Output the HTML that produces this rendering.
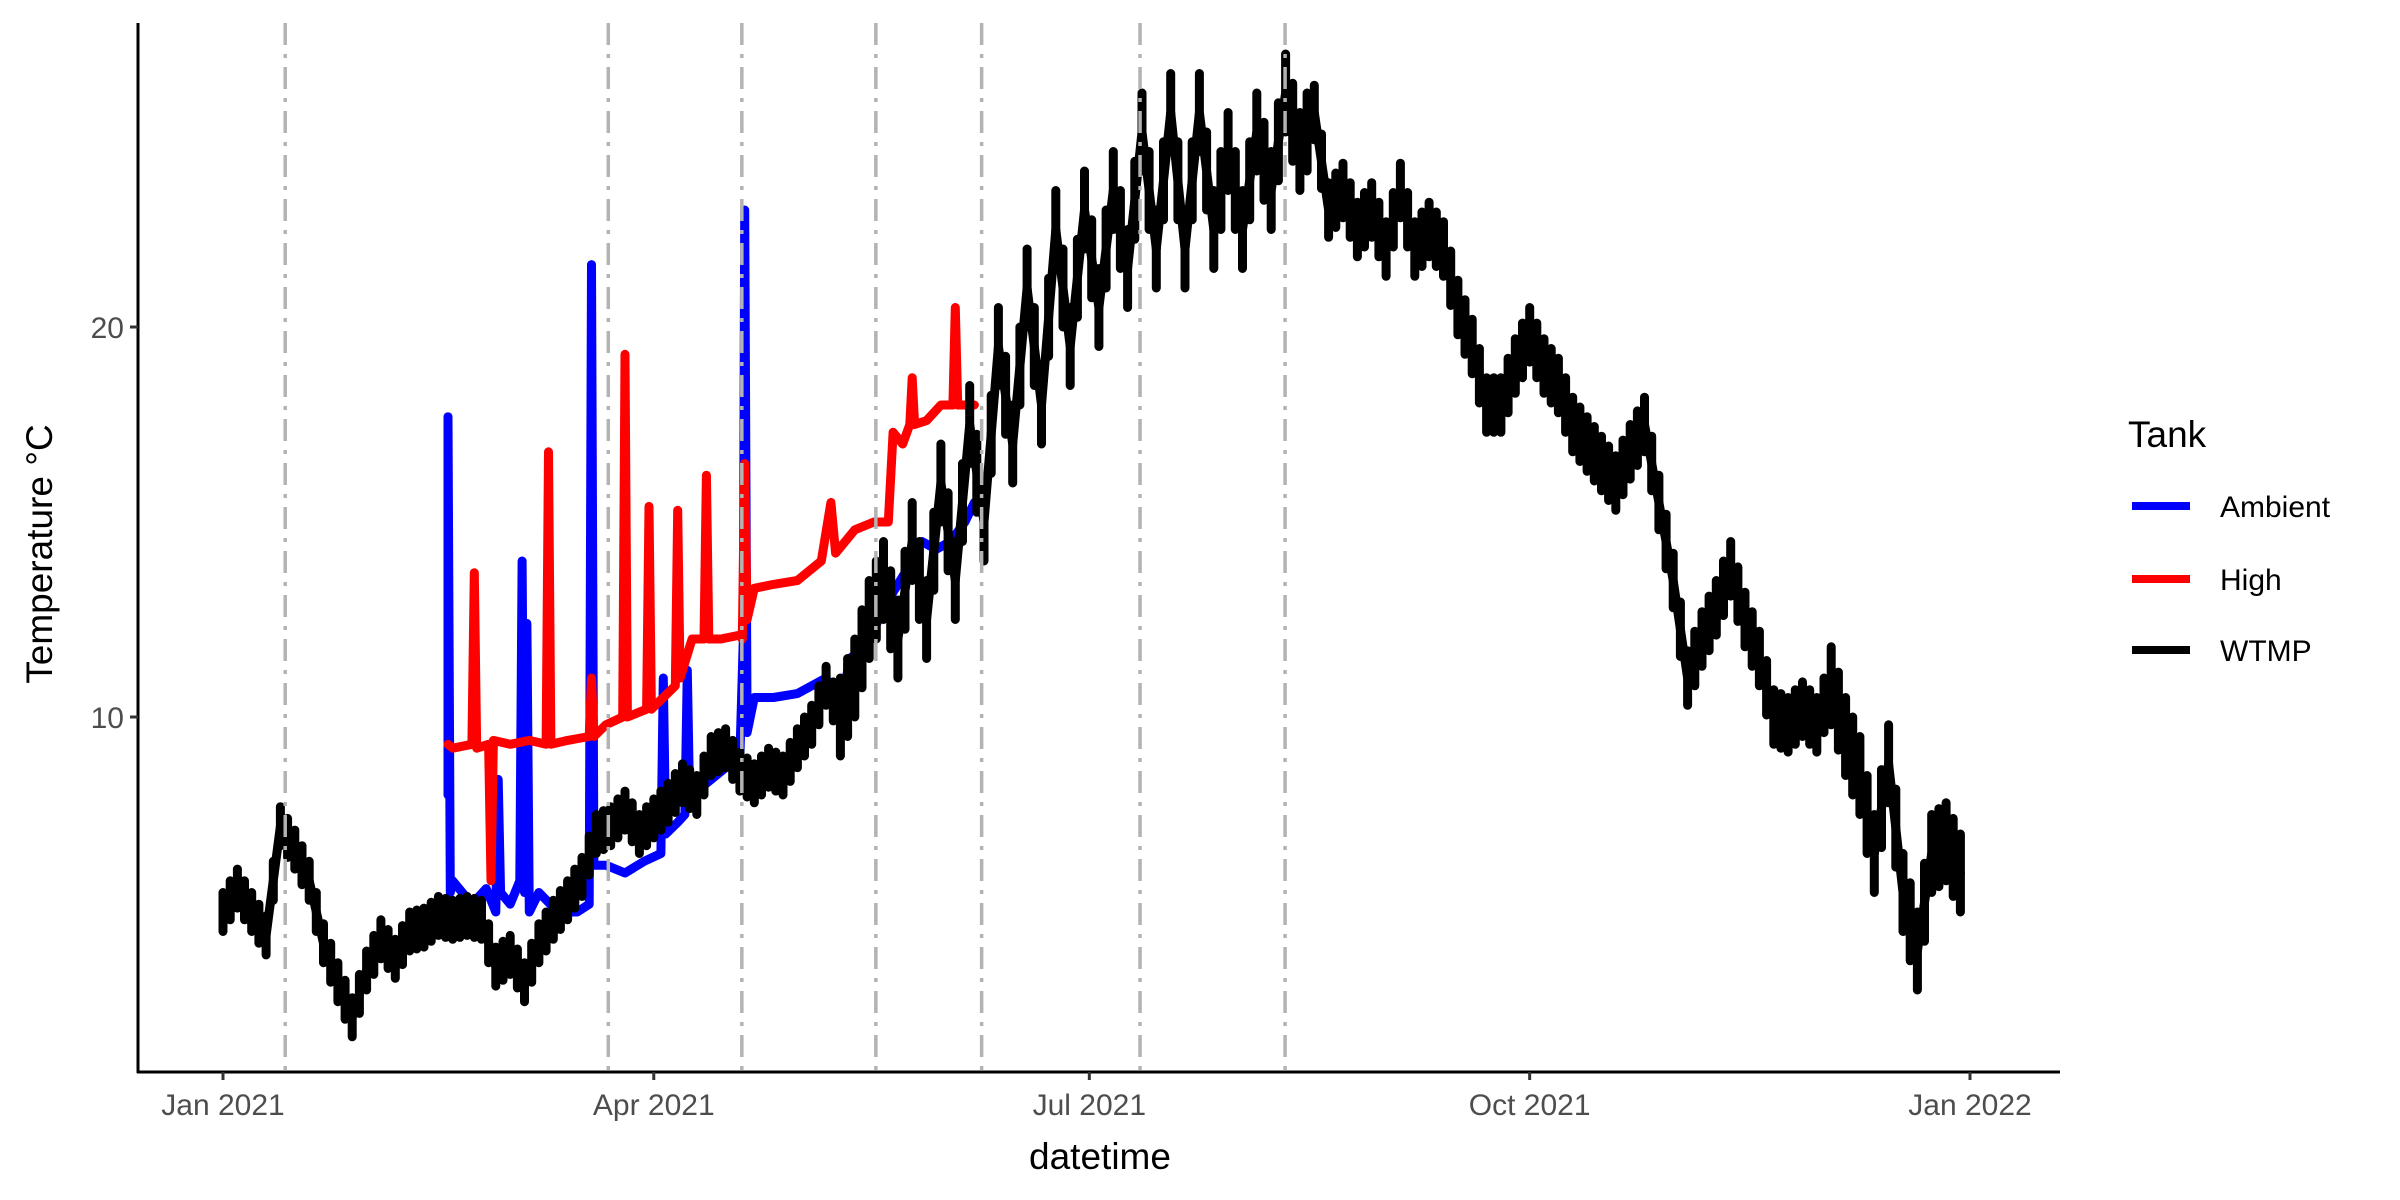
<!DOCTYPE html>
<html><head><meta charset="utf-8"><style>
html,body{margin:0;padding:0;background:#fff;}
svg{display:block;font-family:"Liberation Sans",Arial,sans-serif;}
</style></head><body>
<svg id="chart" width="2400" height="1200" viewBox="0 0 2400 1200" xmlns="http://www.w3.org/2000/svg">
<rect width="2400" height="1200" fill="#fff"/>
<g id="series"></g>
<g id="vlines"></g>
<g id="axes"></g>
<text transform="translate(52,554) rotate(-90)" text-anchor="middle" font-size="37" fill="#000">Temperature °C</text>
<text x="1100" y="1169" text-anchor="middle" font-size="37" fill="#000">datetime</text>
<g>
<text x="2128" y="447" font-size="37" fill="#000">Tank</text>
<g><line x1="2132" x2="2190" y1="506" y2="506" stroke="#0000ff" stroke-width="8"/><text x="2220" y="517" font-size="30" fill="#000">Ambient</text></g>
<g><line x1="2132" x2="2190" y1="579" y2="579" stroke="#ff0000" stroke-width="8"/><text x="2220" y="590" font-size="30" fill="#000">High</text></g>
<g><line x1="2132" x2="2190" y1="650" y2="650" stroke="#000" stroke-width="8"/><text x="2220" y="661" font-size="30" fill="#000">WTMP</text></g>
</g>
</svg>
<script>
const xTickDays = [0, 90, 181, 273, 365];
const xTickLabels = ["Jan 2021", "Apr 2021", "Jul 2021", "Oct 2021", "Jan 2022"];
const yTicks = [10, 20];
const vlineDays = [13, 80.5, 108.4, 136.4, 158.5, 191.6, 221.9];
const wtmpDays = [0,3,6,9,12,15,18,21,24,27,30,33,36,39,42,45,48,51,54,57,60,63,66,69,72,75,78,81,84,87,90,93,96,99,102,105,108,111,114,117,120,123,126,129,132,135,138,141,144,147,150,153,156,159,162,165,168,171,174,177,180,183,186,189,192,195,198,201,204,207,210,213,216,219,222,225,228,231,234,237,240,243,246,249,252,255,258,261,264,267,270,273,276,279,282,285,288,291,294,297,300,303,306,309,312,315,318,321,324,327,330,333,336,339,342,345,348,351,354,357,360,363];
const wtmpVals = [5.0,5.6,5.0,4.4,7.2,6.6,5.8,4.2,3.2,2.3,3.5,4.3,3.8,4.5,4.6,4.9,4.8,4.9,4.8,3.6,3.9,3.2,4.2,4.8,5.3,5.9,7.0,7.2,7.6,7.0,7.4,7.8,8.3,8.0,9.0,9.2,8.6,8.3,8.7,8.5,9.2,9.8,10.8,10.0,11.0,12.5,13.5,12.0,14.5,12.5,16.0,13.5,17.5,15.0,19.5,17.0,21.0,18.0,22.5,19.5,23.0,20.5,23.5,21.5,25.0,22.0,25.5,22.0,25.5,22.5,24.5,22.5,25.0,23.5,26.0,24.5,25.5,23.0,23.5,22.5,23.0,22.0,23.5,22.0,22.5,22.0,20.5,19.5,18.0,18.0,19.0,19.8,19.0,18.5,17.5,17.0,16.5,16.0,16.8,17.5,15.5,13.5,11.0,12.0,12.8,13.8,12.5,11.5,10.0,9.8,10.2,9.8,10.8,9.5,8.5,6.5,8.8,5.5,4.0,6.5,6.8,6.0];
const wtmpSpread = [0.5,0.5,0.5,0.5,0.5,0.5,0.5,0.5,0.5,0.5,0.5,0.5,0.5,0.5,0.5,0.5,0.5,0.5,0.5,0.5,
0.5,0.5,0.5,0.5,0.5,0.5,0.5,0.5,0.5,0.5,0.5,0.5,0.5,0.5,0.5,0.5,0.5,0.5,0.5,0.5,0.5,0.5,0.5,
1.0,1.0,1.0,1.0,1.0,1.0,1.0,1.0,1.0,1.0,1.0,1.0,1.0,1.0,1.0,1.0,1.0,1.0,1.0,1.0,1.0,1.0,1.0,1.0,1.0,1.0,1.0,1.0,1.0,1.0,1.0,1.0,1.0,
0.7,0.7,0.7,0.7,0.7,0.7,0.7,0.7,0.7,0.7,0.7,0.7,0.7,0.7,0.7,0.7,0.7,0.7,0.7,0.7,0.7,0.7,0.7,0.7,
0.7,0.7,0.7,0.7,0.7,0.7,0.7,0.7,0.7,0.7,0.7,0.7,
1.0,1.0,1.0,1.0,1.0,1.0,1.0,1.0,1.0,1.0];
const ambDays = [47,47,47.5,48,52,55,57,57.5,58,60,62,62.5,63,63.5,64,66,70,74,76.5,77,77.5,80,84,88,91.5,92,92.5,95,96.5,97,97.5,100,104,108,108.7,109,109.5,111,115,120,123,126,129,131,134,137,140,143,146,149,152,155,157];
const ambVals = [8,17.7,5.5,5.8,5.2,5.6,5.0,8.4,5.5,5.2,5.8,14.0,5.5,12.4,5.0,5.5,5.0,5.0,5.2,21.6,6.2,6.2,6.0,6.3,6.5,11.0,7.0,7.3,7.5,11.2,7.8,8.2,8.6,9.0,12.0,23.0,9.6,10.5,10.5,10.6,10.8,11.0,10.2,11.5,11.8,12.5,13.2,13.8,14.5,14.3,14.5,15.0,15.5];
const highDays = [47,48,52,52.5,53,55.5,56,56.5,60,64,67.5,68,68.5,72,76.5,77,77.5,80,83.5,84,84.5,88.5,89,89.5,92,94.5,95,95.5,98,100.5,101,101.5,104,108,108.5,109,109.5,111,115,120,125,127,128,132,136,139,140,142,143.5,144,144.5,147,150,152.5,153,153.5,157];
const highVals = [9.3,9.2,9.3,13.7,9.2,9.3,5.8,9.4,9.3,9.4,9.3,16.8,9.3,9.4,9.5,11.0,9.5,9.8,10.0,19.3,10.0,10.2,15.4,10.2,10.5,10.8,15.3,11.0,12.0,12.0,16.2,12.0,12.0,12.1,12.0,16.5,12.5,13.3,13.4,13.5,14.0,15.5,14.2,14.8,15.0,15.0,17.3,17.0,17.5,18.7,17.5,17.6,18.0,18.0,20.5,18.0,18.0];

const NS = "http://www.w3.org/2000/svg";
const X0 = 223, PXD = (1970 - 223) / 365;
function xScale(d) { return X0 + d * PXD; }
function yScale(v) { return 717 - (v - 10) * 39; }
const PL = 138, PR = 2060, PT = 23, PB = 1072;
const LW = 9;

function addPath(d, color, name, w) {
  const p = document.createElementNS(NS, "path");
  p.setAttribute("d", d);
  p.setAttribute("fill", "none");
  p.setAttribute("stroke", color);
  p.setAttribute("stroke-width", w);
  p.setAttribute("stroke-linejoin", "round");
  p.setAttribute("stroke-linecap", "round");
  
  
  document.getElementById("series").appendChild(p);
}
function drawSeries(days, vals, color, name) {
  let d = "";
  for (let i = 0; i < days.length; i++) {
    d += (i ? "L" : "M") + xScale(days[i]).toFixed(1) + "," + yScale(vals[i]).toFixed(1);
  }
  addPath(d, color, name, LW);
}
drawSeries(ambDays, ambVals, "#0000ff", "ambient-line");
drawSeries(highDays, highVals, "#ff0000", "high-line");
drawSeries(wtmpDays, wtmpVals, "#000000", "wtmp-line");
(function () {
  let d = "";
  for (let i = 0; i < wtmpDays.length; i++) {
    const x = xScale(wtmpDays[i]);
    const s = wtmpSpread[i];
    d += "M" + x.toFixed(1) + "," + yScale(wtmpVals[i] + s).toFixed(1) + "L" + x.toFixed(1) + "," + yScale(wtmpVals[i] - s).toFixed(1);
    if (i + 1 < wtmpDays.length) {
      const xm = (x + xScale(wtmpDays[i + 1])) / 2, vm = (wtmpVals[i] + wtmpVals[i + 1]) / 2;
      d += "M" + xm.toFixed(1) + "," + yScale(vm + s).toFixed(1) + "L" + xm.toFixed(1) + "," + yScale(vm - s).toFixed(1);
    }
  }
  addPath(d, "#000000", "wtmp-fluctuation", LW);
})();

const vg = document.getElementById("vlines");
vlineDays.forEach(function (d) {
  const l = document.createElementNS(NS, "line");
  l.setAttribute("x1", xScale(d)); l.setAttribute("x2", xScale(d));
  l.setAttribute("y1", PT); l.setAttribute("y2", PB);
  l.setAttribute("stroke", "#b3b3b3");
  l.setAttribute("stroke-width", "3.5");
  l.setAttribute("stroke-dasharray", "22 9 4 9");
  
  
  vg.appendChild(l);
});

const ag = document.getElementById("axes");
function mk(tag, attrs) {
  const e = document.createElementNS(NS, tag);
  for (const k in attrs) e.setAttribute(k, attrs[k]);
  ag.appendChild(e);
  return e;
}
const ya = mk("line", {x1: PL, x2: PL, y1: PT, y2: PB + 1, stroke: "#000", "stroke-width": 3});


const xa = mk("line", {x1: PL - 1, x2: PR, y1: PB, y2: PB, stroke: "#000", "stroke-width": 3});


yTicks.forEach(function (v) {
  const t = mk("line", {x1: PL - 8, x2: PL, y1: yScale(v), y2: yScale(v), stroke: "#333", "stroke-width": 3});
  
  
  const tx = mk("text", {x: PL - 14, y: yScale(v) + 11, "text-anchor": "end", "font-size": 30, fill: "#4d4d4d"});
  tx.textContent = String(v);
  
  
});
xTickDays.forEach(function (d, i) {
  const t = mk("line", {x1: xScale(d), x2: xScale(d), y1: PB, y2: PB + 8, stroke: "#333", "stroke-width": 3});
  
  
  const tx = mk("text", {x: xScale(d), y: PB + 43, "text-anchor": "middle", "font-size": 30, fill: "#4d4d4d"});
  tx.textContent = xTickLabels[i];
  
  
});
</script>
</body></html>
